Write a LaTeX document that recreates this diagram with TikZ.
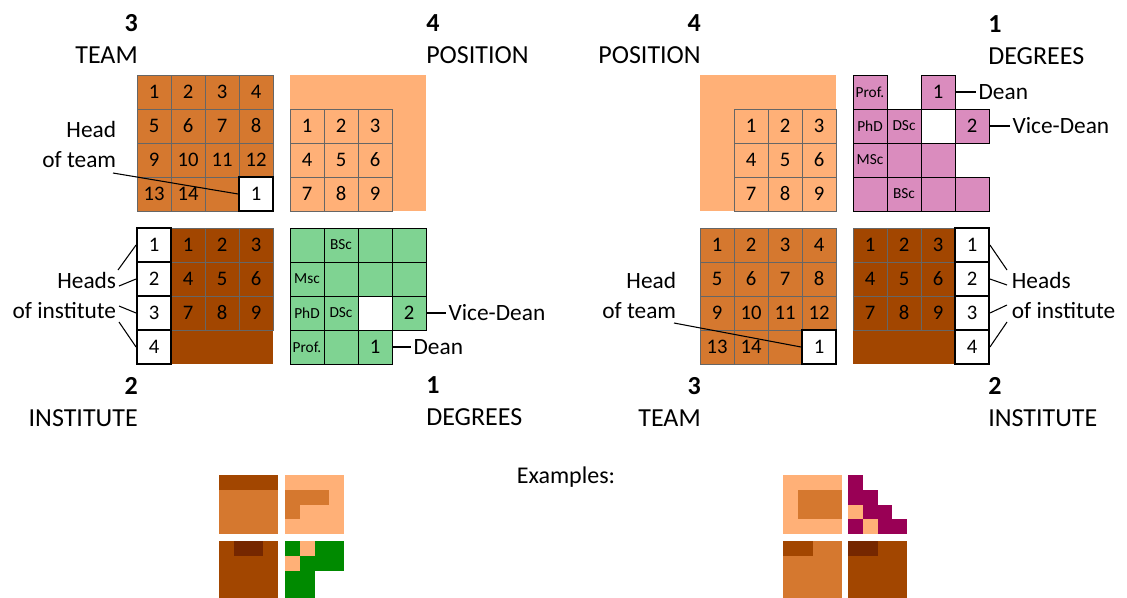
\documentclass[tikz,border=0pt]{standalone}
\usepackage{fontspec}
\setmainfont{Carlito}
\usetikzlibrary{positioning}

\definecolor{teamc}{HTML}{D5782F}
\definecolor{posc}{HTML}{FFB077}
\definecolor{instc}{HTML}{A24600}
\definecolor{degc}{HTML}{7FD392}
\definecolor{pinkc}{HTML}{DA8CBE}
\definecolor{exgreen}{HTML}{008A00}
\definecolor{exmag}{HTML}{990055}
\definecolor{darkbr}{HTML}{752700}

\tikzset{
  cell/.style={draw=black!60, line width=0.5pt, minimum size=25.5pt, inner sep=0pt,
    font=\fontsize{15.5}{15.5}\selectfont},
  degcell/.style={cell, draw=black, line width=0.6pt},
  headcell/.style={cell, fill=white, draw=black, line width=1.4pt},
  degtext/.style={font=\fontsize{11.5}{11.5}\selectfont},
  title/.style={font=\fontsize{19.5}{19.5}\selectfont, inner sep=0pt},
  rank/.style={font=\bfseries\fontsize{19.5}{19.5}\selectfont, inner sep=0pt},
  note/.style={font=\fontsize{17.5}{22.5}\selectfont, inner sep=2pt},
  pointer/.style={draw=black, line width=0.8pt},
}

\begin{document}
\begin{tikzpicture}[x=0.75pt, y=-0.75pt]
\useasboundingbox (0,0) rectangle (1127,597);

% ---- left: team
\foreach \n in {1,...,16} {
  \pgfmathtruncatemacro\rr{div(\n-1,4)}
  \pgfmathtruncatemacro\cc{mod(\n-1,4)}
  \node[cell, fill=teamc] (lt\n) at (154+34*\cc, 92+34*\rr) {\ifnum\n<15 \n\fi};
}
\node[headcell] (lthead) at (lt16) {1};
\node[title, anchor=base east] (ltname) at (138,63) {TEAM};
\node[rank, anchor=base east] (ltrank) at ([yshift=23.5pt]ltname.base east) {3};
\node[note, anchor=east, align=right] (lhot) at (119,144) {Head\\of team};
\coordinate (lhotend) at (113,173);
\draw[pointer] (lhotend) -- (lthead.west);

% ---- left: position
\fill[posc] (290,75) rectangle (426,211);
\foreach \n in {1,...,9} {
  \pgfmathtruncatemacro\rr{div(\n-1,3)}
  \pgfmathtruncatemacro\cc{mod(\n-1,3)}
  \node[cell, fill=posc] (lp\n) at (307+34*\cc, 126+34*\rr) {\n};
}
\node[title, anchor=base west] (lpname) at (426,63) {POSITION};
\node[rank, anchor=base west] (lprank) at ([yshift=23.5pt]lpname.base west) {4};

% ---- left: institute
\fill[instc] (171,228) rectangle (273,364);
\foreach \n in {1,...,9} {
  \pgfmathtruncatemacro\rr{div(\n-1,3)}
  \pgfmathtruncatemacro\cc{mod(\n-1,3)}
  \node[cell, fill=instc] (li\n) at (188+34*\cc, 245+34*\rr) {\n};
}
\foreach \k in {1,...,4}
  \node[headcell] (lih\k) at (154, 211+34*\k) {\k};
\node[note, anchor=east, align=right] (lhoi) at (119,295) {Heads\\of institute};
\coordinate (lihp1) at (118,270);
\coordinate (lihp2) at (119,286);
\coordinate (lihp3) at (119,306);
\coordinate (lihp4) at (119,322);
\foreach \k in {1,...,4}
  \draw[pointer] (lih\k.west) -- (lihp\k);
\node[title, anchor=base east] (liname) at (138,426) {INSTITUTE};
\node[rank, anchor=base east] (lirank) at ([yshift=23.5pt]liname.base east) {2};

% ---- left: degrees
\foreach \rr/\cc/\t in {1/1/{},1/2/BSc,1/3/{},1/4/{},2/1/Msc,2/2/{},2/3/{},2/4/{},
    3/1/PhD,3/2/DSc,4/1/Prof.,4/2/{}}
  \node[degcell, fill=degc, degtext] (ld\rr\cc) at (273+34*\cc, 211+34*\rr) {\t};
\node[degcell, fill=white] (ld33) at (375,313) {};
\node[degcell, fill=degc] (ldvice) at (409,313) {2};
\node[degcell, fill=degc] (lddean) at (375,347) {1};
\node[note, right=14.5pt of ldvice] (ldvl) {Vice-Dean};
\node[note, right=13.7pt of lddean] (lddl) {Dean};
\draw[pointer] (ldvice.east) -- (ldvl.west);
\draw[pointer] (lddean.east) -- (lddl.west);
\node[title, anchor=base west] (ldname) at (426,425) {DEGREES};
\node[rank, anchor=base west] (ldrank) at ([yshift=23.5pt]ldname.base west) {1};

% ---- right: position
\fill[posc] (700,75) rectangle (836,211);
\foreach \n in {1,...,9} {
  \pgfmathtruncatemacro\rr{div(\n-1,3)}
  \pgfmathtruncatemacro\cc{mod(\n-1,3)}
  \node[cell, fill=posc] (rp\n) at (751+34*\cc, 126+34*\rr) {\n};
}
\node[title, anchor=base east] (rpname) at (701,63) {POSITION};
\node[rank, anchor=base east] (rprank) at ([yshift=23.5pt]rpname.base east) {4};

% ---- right: degrees
\foreach \rr/\cc/\t in {1/1/Prof.,2/1/PhD,2/2/DSc,3/1/MSc,3/2/{},3/3/{},
    4/1/{},4/2/BSc,4/3/{},4/4/{}}
  \node[degcell, fill=pinkc, degtext] (rd\rr\cc) at (836+34*\cc, 58+34*\rr) {\t};
\node[degcell, fill=white] (rd23) at (938,126) {};
\node[degcell, fill=pinkc] (rdvice) at (972,126) {2};
\node[degcell, fill=pinkc] (rddean) at (938,92) {1};
\node[note, right=15.2pt of rdvice] (rdvl) {Vice-Dean};
\node[note, right=15.2pt of rddean] (rddl) {Dean};
\draw[pointer] (rdvice.east) -- (rdvl.west);
\draw[pointer] (rddean.east) -- (rddl.west);
\node[title, anchor=base west] (rdname) at (988,64) {DEGREES};
\node[rank, anchor=base west] (rdrank) at ([yshift=23.5pt]rdname.base west) {1};

% ---- right: team
\foreach \n in {1,...,16} {
  \pgfmathtruncatemacro\rr{div(\n-1,4)}
  \pgfmathtruncatemacro\cc{mod(\n-1,4)}
  \node[cell, fill=teamc] (rt\n) at (717+34*\cc, 245+34*\rr) {\ifnum\n<15 \n\fi};
}
\node[headcell] (rthead) at (rt16) {1};
\node[note, anchor=east, align=right] (rhot) at (679,295) {Head\\of team};
\coordinate (rhotend) at (674,323);
\draw[pointer] (rhotend) -- (rthead.west);
\node[title, anchor=base east] (rtname) at (701,426) {TEAM};
\node[rank, anchor=base east] (rtrank) at ([yshift=23.5pt]rtname.base east) {3};

% ---- right: institute
\fill[instc] (853,228) rectangle (955,364);
\foreach \n in {1,...,9} {
  \pgfmathtruncatemacro\rr{div(\n-1,3)}
  \pgfmathtruncatemacro\cc{mod(\n-1,3)}
  \node[cell, fill=instc] (ri\n) at (870+34*\cc, 245+34*\rr) {\n};
}
\foreach \k in {1,...,4}
  \node[headcell] (rih\k) at (972, 211+34*\k) {\k};
\node[note, anchor=west, align=left] (rhoi) at (1009,295) {Heads\\of institute};
\coordinate (rihp1) at (1007,270);
\coordinate (rihp2) at (1007,285);
\coordinate (rihp3) at (1007,305);
\coordinate (rihp4) at (1007,322);
\foreach \k in {1,...,4}
  \draw[pointer] (rih\k.east) -- (rihp\k);
\node[title, anchor=base west] (riname) at (988,426) {INSTITUTE};
\node[rank, anchor=base west] (rirank) at ([yshift=23.5pt]riname.base west) {2};

% ---- examples
\node[font=\fontsize{18}{18}\selectfont, inner sep=0pt, anchor=base] (examples) at (566,483) {Examples:};

% left example
\fill[teamc] (219,475) rectangle (278,534);
\fill[instc] (219,475) rectangle (278,489.75);
\fill[posc] (285,475) rectangle (344,534);
\fill[teamc] (285,489.75) rectangle (329.25,504.5);
\fill[teamc] (285,504.5) rectangle (299.75,519.25);
\fill[instc] (219,541) rectangle (278,600);
\fill[darkbr] (233.75,541) rectangle (263.25,555.75);
\fill[exgreen] (285,541) rectangle (344,600);
\fill[posc] (299.75,541) rectangle (314.5,555.75);
\fill[posc] (285,555.75) rectangle (299.75,570.5);
\fill[white] (314.5,570.5) rectangle (344,600);

% right example
\fill[posc] (783,475) rectangle (842,534);
\fill[teamc] (797.75,489.75) rectangle (842,519.25);
\foreach \rr/\cc in {1/1,2/1,2/2,3/2,3/3,4/1,4/3,4/4}
  \fill[exmag] (848+14.75*\cc-14.75, 475+14.75*\rr-14.75) rectangle ++(14.75,14.75);
\fill[posc] (848,504.5) rectangle ++(14.75,14.75);
\fill[posc] (862.75,519.25) rectangle ++(14.75,14.75);
\fill[teamc] (783,541) rectangle (842,600);
\fill[instc] (783,541) rectangle (812.5,555.75);
\fill[instc] (848,541) rectangle (907,600);
\fill[darkbr] (848,541) rectangle (877.5,555.75);
\end{tikzpicture}
\end{document}
